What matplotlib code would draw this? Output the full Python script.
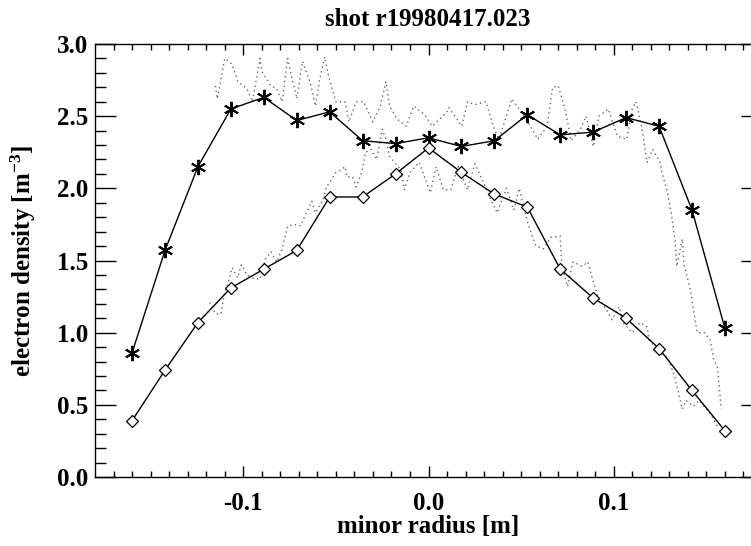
import matplotlib

matplotlib.use("Agg")
import matplotlib.pyplot as plt
import numpy as np

# fitted profile positions (m)
radius = np.linspace(-0.16, 0.16, 19)

# star profile
density_stars = [
    0.86, 1.57, 2.15, 2.55, 2.63, 2.47, 2.53, 2.33, 2.31, 2.35,
    2.29, 2.33, 2.51, 2.37, 2.39, 2.49, 2.43, 1.85, 1.03,
]

# diamond profile
density_diamonds = [
    0.39, 0.74, 1.07, 1.31, 1.44, 1.57, 1.94, 1.94, 2.10, 2.28,
    2.11, 1.96, 1.87, 1.44, 1.24, 1.10, 0.89, 0.60, 0.32,
]

# raw (dotted) flat-top profile
flat_r = [
    -0.115, -0.114, -0.110, -0.106, -0.103, -0.098, -0.095, -0.091, -0.090,
    -0.085, -0.082, -0.079, -0.076, -0.074, -0.071, -0.068, -0.064, -0.061,
    -0.059, -0.056, -0.054, -0.050, -0.045, -0.043, -0.039, -0.035, -0.030,
    -0.026, -0.023, -0.021, -0.017, -0.012, -0.008, -0.002, 0.002, 0.010,
    0.011, 0.018, 0.021, 0.025, 0.031, 0.035, 0.038, 0.042, 0.045, 0.050,
    0.055, 0.059, 0.064, 0.067, 0.070, 0.074, 0.077, 0.082, 0.085, 0.089,
    0.092, 0.097, 0.102, 0.107, 0.110, 0.112, 0.115, 0.118, 0.121, 0.125,
    0.126, 0.129, 0.131, 0.133, 0.134, 0.137, 0.138, 0.141, 0.145, 0.149,
    0.152, 0.154, 0.156, 0.158,
]
flat_n = [
    2.71, 2.62, 2.90, 2.86, 2.74, 2.69, 2.60, 2.90, 2.81,
    2.71, 2.69, 2.60, 2.90, 2.78, 2.62, 2.88, 2.74, 2.57,
    2.74, 2.91, 2.78, 2.60, 2.60, 2.46, 2.60, 2.60, 2.46,
    2.57, 2.74, 2.57, 2.48, 2.43, 2.57, 2.51, 2.43, 2.53,
    2.56, 2.43, 2.60, 2.58, 2.60, 2.43, 2.34, 2.50, 2.62, 2.53,
    2.43, 2.34, 2.43, 2.70, 2.71, 2.53, 2.33, 2.41, 2.50, 2.29,
    2.50, 2.55, 2.36, 2.34, 2.55, 2.60, 2.43, 2.18, 2.27, 2.18,
    2.11, 1.97, 1.83, 1.65, 1.46, 1.65, 1.46, 1.32, 1.00, 1.00,
    0.95, 0.81, 0.76, 0.47,
]

# raw (dotted) peaked profile
peak_r = [
    -0.118, -0.115, -0.112, -0.110, -0.108, -0.106, -0.103, -0.101, -0.098,
    -0.095, -0.091, -0.088, -0.085, -0.082, -0.079, -0.076, -0.071, -0.069,
    -0.066, -0.063, -0.061, -0.057, -0.055, -0.050, -0.047, -0.045, -0.044,
    -0.041, -0.039, -0.036, -0.034, -0.031, -0.028, -0.025, -0.023, -0.021,
    -0.015, -0.013, -0.010, -0.005, 0.001, 0.004, 0.008, 0.012, 0.016,
    0.021, 0.025, 0.029, 0.033, 0.037, 0.042, 0.046, 0.049, 0.052, 0.054,
    0.058, 0.062, 0.066, 0.071, 0.072, 0.075, 0.078, 0.083, 0.086, 0.089,
    0.092, 0.096, 0.099, 0.103, 0.105, 0.110, 0.114, 0.118, 0.119, 0.125,
    0.129, 0.133, 0.137, 0.139, 0.143, 0.146, 0.152, 0.156,
]
peak_n = [
    1.21, 1.13, 1.13, 1.28, 1.35, 1.45, 1.38, 1.47, 1.40,
    1.38, 1.37, 1.51, 1.56, 1.49, 1.58, 1.74, 1.75, 1.74,
    1.83, 1.91, 1.83, 1.92, 2.01, 2.11, 2.13, 2.15, 2.08,
    2.08, 2.01, 2.11, 2.25, 2.27, 2.20, 2.41, 2.34, 2.22,
    2.13, 1.99, 2.11, 2.18, 1.97, 2.15, 1.99, 1.99, 2.15,
    1.99, 2.17, 2.06, 1.94, 1.83, 2.00, 1.85, 2.00, 1.84, 1.74,
    1.60, 1.58, 1.66, 1.67, 1.46, 1.32, 1.49, 1.46, 1.49, 1.35,
    1.23, 1.16, 1.09, 1.18, 1.07, 1.00, 1.07, 1.04, 0.95, 0.86,
    0.83, 0.69, 0.47, 0.53, 0.49, 0.53, 0.44, 0.35,
]

x_ticks = [-0.1, 0.0, 0.1]
x_tick_labels = ["-0.1", "0.0", "0.1"]
y_ticks = [0.0, 0.5, 1.0, 1.5, 2.0, 2.5, 3.0]
y_tick_labels = ["0.0", "0.5", "1.0", "1.5", "2.0", "2.5", "3.0"]

FONT = {"family": "Liberation Serif", "weight": "bold", "size": 18}


def plot_density_profiles():
    plt.rcParams["font.family"] = "Liberation Serif"
    plt.rcParams["font.weight"] = "bold"
    plt.rcParams["mathtext.fontset"] = "custom"
    plt.rcParams["mathtext.rm"] = "Liberation Serif:bold"
    plt.rcParams["mathtext.it"] = "Liberation Serif:bold"

    figure = plt.figure(figsize=(7.51, 5.46), dpi=100)
    axis = figure.add_axes([95 / 751, 69 / 546, 667 / 751, 433 / 546])

    dotted = (0, (1, 2.4))
    axis.plot(flat_r, flat_n, color="0.4", linestyle=dotted, linewidth=1.0)
    axis.plot(peak_r, peak_n, color="0.4", linestyle=dotted, linewidth=1.0)

    axis.plot(
        radius,
        density_stars,
        color="black",
        linewidth=1.0,
        marker=(6, 2, 0),
        markersize=11,
        markeredgewidth=1.4,
    )
    axis.plot(
        radius,
        density_diamonds,
        color="black",
        linewidth=1.0,
        marker="D",
        markersize=6.5,
        markerfacecolor="white",
        markeredgewidth=0.9,
    )

    axis.set_xlim(-0.18, 0.18)
    axis.set_ylim(0.0, 3.0)

    axis.set_xticks(x_ticks)
    axis.set_xticklabels(x_tick_labels, fontdict=FONT)
    axis.set_xticks(np.arange(-0.17, 0.175, 0.01), minor=True)
    axis.set_yticks(y_ticks)
    axis.set_yticklabels(y_tick_labels, fontdict=FONT)
    axis.set_yticks(np.arange(0.0, 3.01, 0.1), minor=True)

    axis.tick_params(
        axis="x", which="major", direction="in", length=8, width=1,
        top=True, pad=11,
    )
    axis.tick_params(
        axis="x", which="minor", direction="in", length=4, width=1, top=True,
    )
    axis.tick_params(
        axis="y", which="major", direction="in", length=15, width=1,
        right=True, pad=5,
    )
    axis.tick_params(
        axis="y", which="minor", direction="in", length=8, width=1, right=True,
    )
    for spine in axis.spines.values():
        spine.set_linewidth(1.0)

    axis.set_title(
        "shot r19980417.023", fontdict=FONT, pad=13, x=(428 - 95) / 667
    )
    axis.set_xlabel("minor radius [m]", fontdict=FONT)
    axis.xaxis.set_label_coords((428 - 95) / 667, -38 / 433)
    axis.set_ylabel(r"electron density [m$^{-3}$]", fontdict=FONT)
    axis.yaxis.set_label_coords(-57 / 667, 0.5)

    figure.savefig("out.png", dpi=100)
    plt.close(figure)


plot_density_profiles()
